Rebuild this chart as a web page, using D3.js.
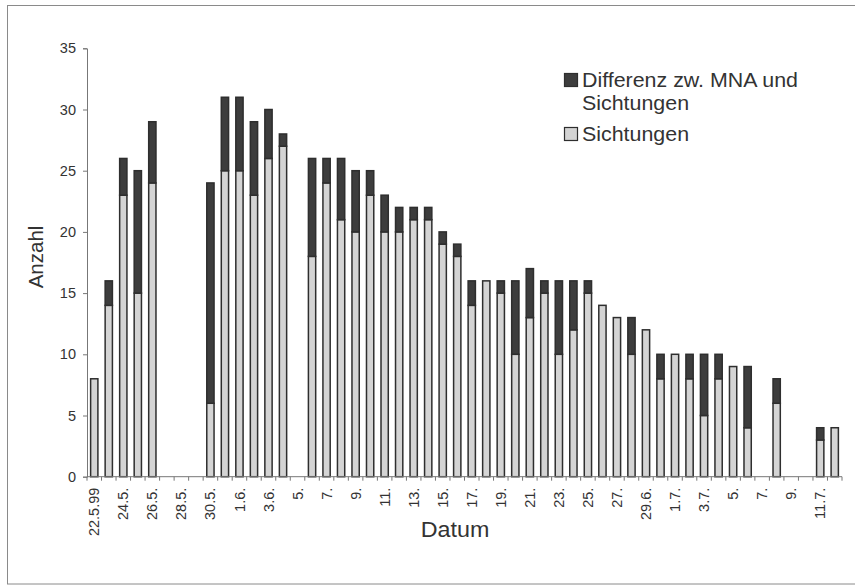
<!DOCTYPE html>
<html><head><meta charset="utf-8">
<script src="https://cdn.jsdelivr.net/npm/d3@7"></script>
<style>
html,body{margin:0;padding:0;background:#fff;}
svg{display:block;font-family:"Liberation Sans",Arial,sans-serif;}
</style></head>
<body>
<svg id="chart" width="855" height="587"></svg>
<script>
// Categories: daily dates 22.5.99 – 12.7.
const dates = ["22.5.","23.5.","24.5.","25.5.","26.5.","27.5.","28.5.","29.5.","30.5.","31.5.",
  "1.6.","2.6.","3.6.","4.6.","5.6.","6.6.","7.6.","8.6.","9.6.","10.6.","11.6.","12.6.","13.6.","14.6.","15.6.",
  "16.6.","17.6.","18.6.","19.6.","20.6.","21.6.","22.6.","23.6.","24.6.","25.6.","26.6.","27.6.","28.6.","29.6.","30.6.",
  "1.7.","2.7.","3.7.","4.7.","5.7.","6.7.","7.7.","8.7.","9.7.","10.7.","11.7.","12.7."];
// Tick labels shown on every second category
const tickLabels = ["22.5.99","24.5.","26.5.","28.5.","30.5.","1.6.","3.6.","5.","7.","9.","11.","13.","15.",
  "17.","19.","21.","23.","25.","27.","29.6.","1.7.","3.7.","5.","7.","9.","11.7."];
// Series
const sichtungen = [8,14,23,15,24,0,0,0,6,25,25,23,26,27,0,18,24,21,20,23,20,20,21,21,19,18,14,16,15,10,13,15,10,12,15,14,13,10,12,8,10,8,5,8,9,4,0,6,0,0,3,4];
const differenz  = [0,2,3,10,5,0,0,0,18,6,6,6,4,1,0,8,2,5,5,2,3,2,1,1,1,1,2,0,1,6,4,1,6,4,1,0,0,3,0,2,0,2,5,2,0,5,0,2,0,0,1,0];
const legendLines = ["Differenz zw. MNA und","Sichtungen","Sichtungen"];
const yTicks = [0,5,10,15,20,25,30,35];

const svg = d3.select("#chart");
const M = {left:87, right:842, top:48.3, bottom:476.7};
const darkFill = "#3d3d3d", lightFill = "#d4d4d4", stroke = "#2e2e2e", textCol = "#333";

// frame
svg.append("rect").attr("x",7.5).attr("y",5.5).attr("width",860).attr("height",578.5)
  .attr("fill","none").attr("stroke","#8a8a8a").attr("stroke-width",1);

const x = d3.scaleBand().domain(dates).range([M.left,M.right]).paddingInner(0.43).paddingOuter(0.215);
const y = d3.scaleLinear().domain([0,35]).range([M.bottom,M.top]);

const rows = dates.map((d,i)=>({date:d, sichtungen:sichtungen[i], differenz:differenz[i]}));
const stack = d3.stack().keys(["sichtungen","differenz"])(rows);

const g = svg.append("g");
stack.forEach((layer,li)=>{
  g.append("g").selectAll("rect").data(layer.filter(s=>s[1]-s[0]>0)).join("rect")
    .attr("x",s=>x(s.data.date)+0.5)
    .attr("y",s=>y(s[1]))
    .attr("width",x.bandwidth()-1)
    .attr("height",s=>y(s[0])-y(s[1]))
    .attr("fill",li===0?lightFill:darkFill)
    .attr("stroke",stroke).attr("stroke-width",1.5);
});

// y axis
const yAxis = d3.axisLeft(y).tickValues(yTicks).tickSize(4).tickPadding(7).tickFormat(d3.format("d"));
const ya = svg.append("g").attr("transform",`translate(${M.left},0)`).call(yAxis);
ya.select(".domain").attr("stroke","#777");
ya.selectAll(".tick line").attr("stroke","#777");
ya.selectAll("text").attr("font-size",14.5).attr("fill",textCol).attr("font-family","Liberation Sans, Arial, sans-serif");

// x axis line and boundary ticks
const step = x.step();
const xa = svg.append("g");
xa.append("line").attr("x1",M.left).attr("x2",M.right).attr("y1",M.bottom).attr("y2",M.bottom).attr("stroke","#777");
xa.selectAll("line.t").data(d3.range(dates.length+1)).join("line").attr("class","t")
  .attr("x1",i=>M.left+i*step).attr("x2",i=>M.left+i*step)
  .attr("y1",M.bottom).attr("y2",M.bottom+4).attr("stroke","#777");
xa.selectAll("text").data(tickLabels).join("text")
  .attr("transform",(d,i)=>`translate(${x(dates[i*2])+x.bandwidth()/2},${M.bottom+11}) rotate(-90)`)
  .attr("dy","0.35em").attr("text-anchor","end")
  .attr("font-size",14.5).attr("fill",textCol).text(d=>d);

// axis titles
svg.append("text").attr("transform","translate(455,536.5) scale(1.06,1)").attr("text-anchor","middle")
  .attr("font-size",22).attr("fill",textCol).text("Datum");
svg.append("text").attr("transform","translate(43,257) rotate(-90)").attr("text-anchor","middle")
  .attr("font-size",20.5).attr("fill",textCol).text("Anzahl");

// legend
const leg = svg.append("g");
leg.append("rect").attr("x",564.5).attr("y",73.5).attr("width",13).attr("height",13)
  .attr("fill",darkFill).attr("stroke",stroke).attr("stroke-width",1.2);
leg.append("rect").attr("x",564.5).attr("y",127.5).attr("width",13).attr("height",13)
  .attr("fill",lightFill).attr("stroke",stroke).attr("stroke-width",1.2);
const legY = [87,110,141];
leg.selectAll("text").data(legendLines).join("text")
  .attr("transform",(d,i)=>`translate(582,${legY[i]}) scale(1.07,1)`)
  .attr("font-size",20).attr("fill",textCol).text(d=>d);
</script>
</body></html>
